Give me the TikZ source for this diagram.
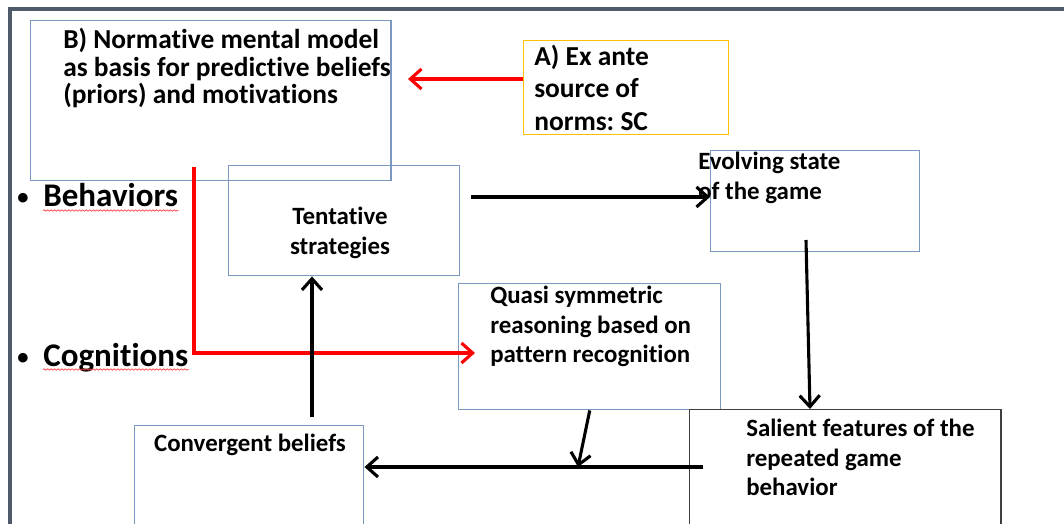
\documentclass[tikz,border=0pt]{standalone}
\usepackage{fontspec}
\setmainfont{Carlito}[Ligatures=NoCommon]
\frenchspacing
\usepackage{tikz}
\definecolor{boxblue}{HTML}{7A98C0}
\definecolor{boxgold}{HTML}{FFC000}
\definecolor{boxdark}{HTML}{3F3F3F}
\definecolor{framegrey}{HTML}{4F5A6B}
\definecolor{arrowred}{HTML}{FF0000}
\usetikzlibrary{arrows.meta, decorations.pathmorphing}
\tikzstyle{bbox} = [rectangle, draw=boxblue, line width=1pt, anchor=north west, inner sep=0pt]
\tikzstyle{gbox} = [bbox, draw=boxgold]
\tikzstyle{dbox} = [bbox, draw=boxdark]
\tikzstyle{btext} = [anchor=north west, inner sep=0pt, align=left, 
font=\fontsize{17.7}{21}\selectfont\bfseries]
\tikzstyle{ctext} = [btext, anchor=north, align=center]
\tikzstyle{bigword} = [anchor=base west, inner sep=0pt, font=\fontsize{23.5}{27}\selectfont\bfseries]
\tikzstyle{dot} = [anchor=base, inner sep=0pt, font=\fontsize{16}{20}\selectfont\bfseries]
\tikzstyle{squiggle} = [draw=red!75, line width=0.5pt, decorate, 
decoration={snake, amplitude=0.5pt, segment length=2.5pt}]
\tikzstyle{arrow} = [line width=2.2pt, -{Straight Barb[length=0.28cm, width=0.5cm]}]
\tikzstyle{redarrow} = [arrow, draw=arrowred]

\begin{document}
\begin{tikzpicture}[x=0.025cm, y=-0.025cm]
	\useasboundingbox (0,0) rectangle (1064,524);
	\draw [framegrey, line width=3pt] (10,524) -- (10,9) -- (1064,9);

	\node (Normative) [bbox, minimum width=9cm, minimum height=4cm] at (30,20) {};
	\node (Source) [gbox, minimum width=5.125cm, minimum height=2.35cm] at (523,40) {};
	\node (Strategies) [bbox, minimum width=5.775cm, minimum height=2.75cm] at (228,165) {};
	\node (Evolving) [bbox, minimum width=5.225cm, minimum height=2.525cm] at (710,150) {};
	\node (Quasi) [bbox, minimum width=6.55cm, minimum height=3.15cm] at (458,283) {};
	\node (Convergent) [bbox, minimum width=5.725cm, minimum height=2.75cm] at (134,425) {};
	\node (Salient) [dbox, minimum width=7.775cm, minimum height=3cm] at (689,409) {};

	\node (NormativeText) [btext, font=\fontsize{19.5}{19.5}\selectfont\bfseries] at (63,28) {B) Normative mental model\\as basis for predictive beliefs\\(priors) and motivations};
	\node (SourceText) [btext, font=\fontsize{19.5}{22.9}\selectfont\bfseries] at (534,45) {A) Ex ante\\source of\\norms: SC};
	\node (StrategiesText) [ctext] at (340,207) {Tentative\\strategies};
	\node (EvolvingText) [btext] at (698,152) {Evolving state\\of the game};
	\node (QuasiText) [btext] at (490,286) {Quasi symmetric\\reasoning based on\\pattern recognition};
	\node (ConvergentText) [ctext] at (250,434) {Convergent beliefs};
	\node (SalientText) [btext] at (746,419) {Salient features of the\\repeated game\\behavior};

	\node (Behaviors) [bigword] at (43,207) {Behaviors};
	\node (BehaviorsDot) [dot] at (23,205) {\textbullet};
	\node (Cognitions) [bigword] at (43,366) {Cognitions};
	\node (CognitionsDot) [dot] at (23,364) {\textbullet};
	\draw [squiggle] ([yshift=-2.5pt]Behaviors.base west) -- ([yshift=-2.5pt]Behaviors.base east);
	\draw [squiggle] ([yshift=-2.5pt]Cognitions.base west) -- ([yshift=-2.5pt]Cognitions.base east);

	\coordinate (NormIn) at (408,79);
	\coordinate (RedStart) at (194,167);
	\coordinate (RedEnd) at (475,353);
	\coordinate (StratOut) at (471,197);
	\coordinate (StateOut) at (806,240);
	\coordinate (SalientIn) at (810,409);
	\coordinate (Merge) at (578,467);
	\coordinate (SalientOut) at (703,467);
	\coordinate (BeliefOut) at (312,417);

	\draw [redarrow] (Source.west |- NormIn) -- (NormIn);
	\draw [redarrow] (RedStart) |- (RedEnd);
	\draw [arrow] (StratOut) -- (StratOut -| Evolving.west);
	\draw [arrow] (StateOut) -- (SalientIn);
	\draw [arrow] (Quasi.south) -- (Merge);
	\draw [arrow] (SalientOut) -- (SalientOut -| Convergent.east);
	\draw [arrow] (BeliefOut) -- (BeliefOut |- Strategies.south);
\end{tikzpicture}
\end{document}
